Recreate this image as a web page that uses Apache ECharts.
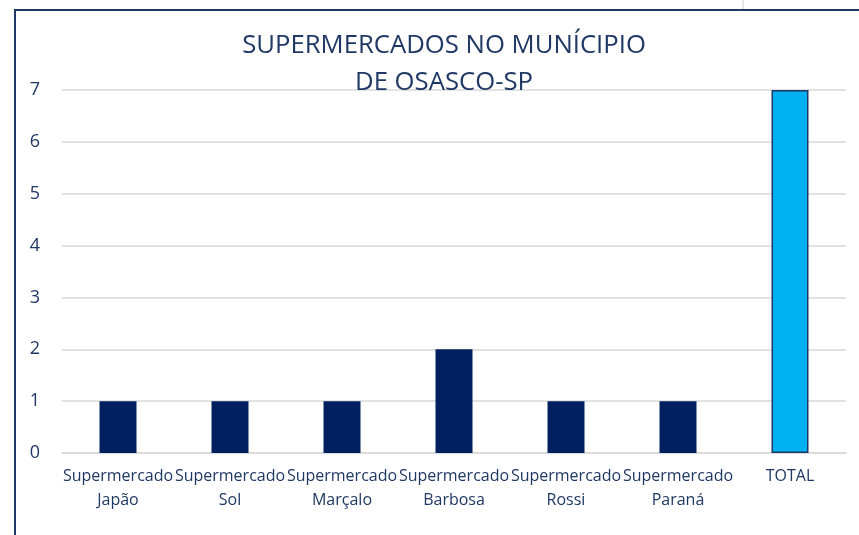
<!DOCTYPE html>
<html><head><meta charset="utf-8">
<script src="https://cdn.jsdelivr.net/npm/echarts@6/dist/echarts.min.js"></script>
<style>html,body{margin:0;padding:0;background:#fff}#c{width:859px;height:535px}</style>
</head><body><div id="c"></div>
<script>
const categories = ["Supermercado\nJapão","Supermercado\nSol","Supermercado\nMarçalo","Supermercado\nBarbosa","Supermercado\nRossi","Supermercado\nParaná","TOTAL"];
const values = [1,1,1,2,1,1,7];
const yTicks = [0,1,2,3,4,5,6,7];
const titleText = "SUPERMERCADOS NO MUNÍCIPIO\nDE OSASCO-SP";

const navy = "#002060", light = "#00B0F0", txt = "#1F3864";
const chart = echarts.init(document.getElementById('c'), null, {renderer:'canvas'});
chart.setOption({
  animation:false,
  backgroundColor:'#fff',
  graphic:[
    {type:'rect', shape:{x:15,y:10,width:870,height:560}, style:{fill:'none', stroke:txt, lineWidth:2}, z:100},
    {type:'line', shape:{x1:743,y1:0,x2:743,y2:9}, style:{stroke:'#e6e6e6', lineWidth:2}}
  ],
  title:{text:titleText, left:439, textAlign:'center', top:22,
    textStyle:{fontFamily:'Open Sans', fontSize:25.7, fontWeight:'normal', color:txt, lineHeight:37}},
  grid:{left:62, right:13, top:90, bottom:82},
  xAxis:{type:'category', data:categories,
    axisLine:{show:true, lineStyle:{color:'#d9d9d9', width:1.5}}, axisTick:{show:false},
    axisLabel:{interval:0, color:txt, fontFamily:'Open Sans', fontSize:16, lineHeight:24, margin:11}},
  yAxis:{type:'value', min:0, max:7, interval:1,
    axisLine:{show:false}, axisTick:{show:false},
    splitLine:{lineStyle:{color:'#d9d9d9', width:1.5}},
    axisLabel:{color:txt, fontFamily:'Open Sans', fontSize:18, margin:22}},
  series:[{type:'bar', barWidth:37,
    data: values.map((v,i)=> i===values.length-1 ? {value:v, itemStyle:{color:light, borderColor:txt, borderWidth:1.5}} : {value:v, itemStyle:{color:navy}})
  }]
});
</script></body></html>
